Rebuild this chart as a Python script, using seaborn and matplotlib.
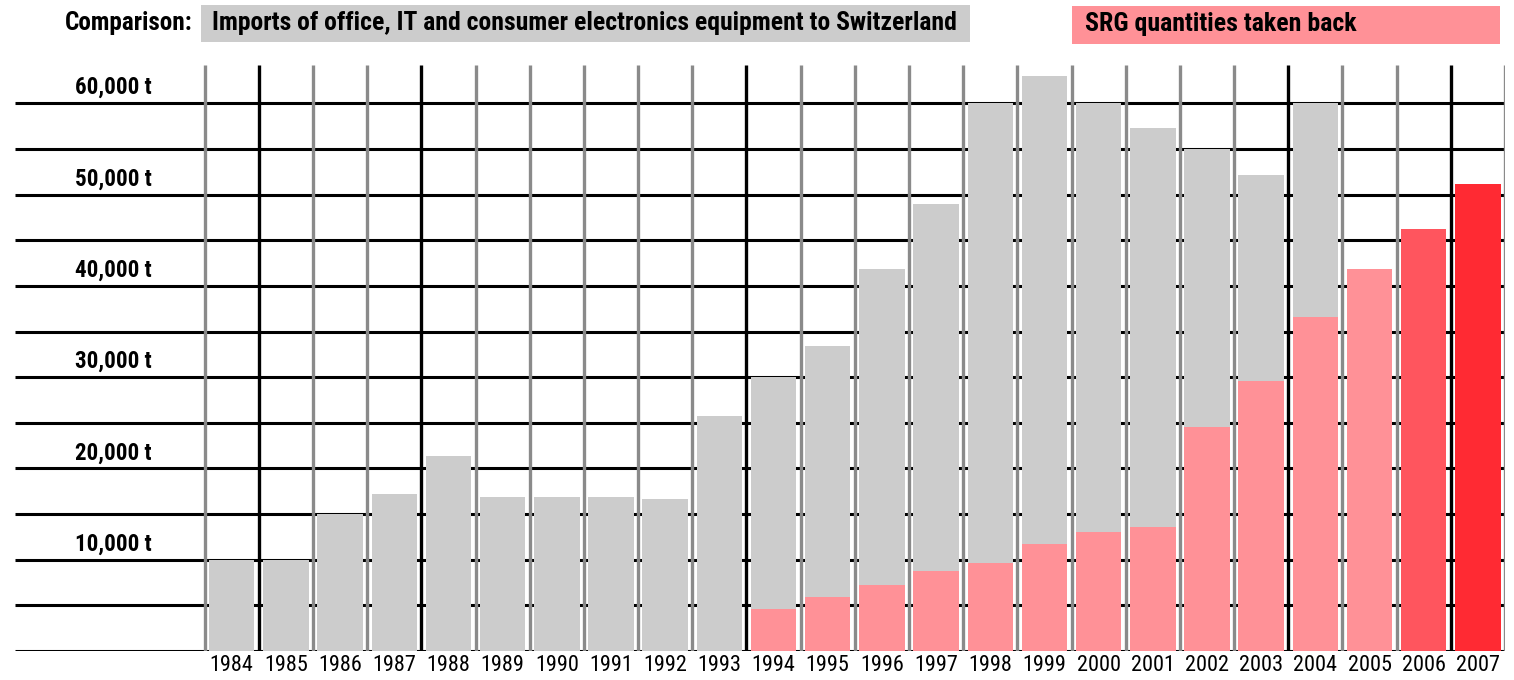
import numpy as np
import pandas as pd
import matplotlib
matplotlib.use("Agg")
import matplotlib.pyplot as plt
import matplotlib.font_manager as fm
import seaborn as sns

years = [str(y) for y in range(1984, 2008)]
imports_t = [10000, 10000, 15000, 17200, 21400, 16900, 16900, 16900, 16700, 25800,
             30000, 33400, 41800, 49000, 60000, 63000, 60000, 57300, 55000, 52200,
             60000, np.nan, np.nan, np.nan]
srg_t = [np.nan] * 10 + [4600, 5900, 7200, 8800, 9600, 11700, 13000, 13600, 24500,
                         29600, 36600, 41800, 46200, 51200]
y_tick_values = [10000, 20000, 30000, 40000, 50000, 60000]
y_tick_labels = ["10,000 t", "20,000 t", "30,000 t", "40,000 t", "50,000 t", "60,000 t"]
header_prefix = "Comparison:"
legend_imports = "Imports of office, IT and consumer electronics equipment to Switzerland"
legend_srg = "SRG quantities taken back"

GRAY = "#cccccc"
PINK = "#ff9197"
srg_colors = [PINK] * 12 + ["#ff555e", "#ff2a33"]

sns.set_theme(style="white")

# choose a narrow font if one is available
fonts = fm.fontManager.ttflist
names = {f.name for f in fonts}
stretch = "normal"
family = "Roboto" if "Roboto" in names else "DejaVu Sans"
for cand in ["Liberation Sans Narrow", "Roboto Condensed", "Open Sans Condensed",
             "Arial Narrow", "Nimbus Sans Narrow"]:
    if cand in names:
        family = cand
        break
else:
    for f in fonts:
        if f.name in ("Roboto", "Open Sans", "DejaVu Sans", "Noto Sans") and \
                str(f.stretch) in ("condensed", "semi-condensed", "extra-condensed", "75", "87.5"):
            family = f.name
            stretch = "condensed"
            break
plt.rcParams["font.family"] = [family, "DejaVu Sans"]
plt.rcParams["font.stretch"] = stretch
plt.rcParams["text.color"] = "black"
plt.rcParams["xtick.color"] = "black"

fig = plt.figure(figsize=(15.14, 6.8), dpi=100)
ax = fig.add_axes([15 / 1514, 29 / 680, 1490 / 1514, 586 / 680])

df_imp = pd.DataFrame({"year": years, "t": imports_t}).dropna()
df_srg = pd.DataFrame({"year": years, "t": srg_t}).dropna()

ax.hlines(np.arange(0, 60001, 5000), -4.0, 23.5, colors="black", linewidth=2.2, zorder=0)

sns.barplot(data=df_imp, x="year", y="t", order=years, color=GRAY, width=0.84,
            saturation=1, ax=ax, zorder=2, errorbar=None, linewidth=0)
sns.barplot(data=df_srg, x="year", y="t", order=years, hue="year",
            hue_order=list(df_srg["year"]), palette=srg_colors, width=0.84,
            saturation=1, ax=ax, zorder=3, errorbar=None, legend=False, dodge=False,
            linewidth=0)

vcolors = ["#8a8a8a"] * 25
for i in [1, 4, 10, 20, 23]:
    vcolors[i] = "#000000"
for i, c in enumerate(vcolors):
    ax.vlines(i - 0.5, 0, 64200, colors=c, linewidth=2.4, zorder=4)

ax.set_xlim(-4.0, 23.5)
ax.set_ylim(0, 64200)
for s in ax.spines.values():
    s.set_visible(False)
ax.set_yticks([])
ax.set_xlabel("")
ax.set_ylabel("")
ax.set_xticks(range(len(years)))
ax.set_xticklabels(years, fontsize=16, color="black")
ax.tick_params(axis="x", length=0, pad=3, labelcolor="black")

ylabs = []
for v, lab in zip(y_tick_values, y_tick_labels):
    ylabs.append(ax.annotate(lab, xy=(-1.48, v), xytext=(0, 3), textcoords="offset points",
                             ha="right", va="bottom", fontsize=16, fontweight="bold",
                             color="black"))

t_pre = fig.text(193 / 1514, 1 - 23 / 680, header_prefix, ha="right", va="center",
                 fontsize=15, fontweight="bold", color="black")
fig.patches.append(plt.Rectangle((201 / 1514, 1 - 42 / 680), 769 / 1514, 37 / 680,
                                 transform=fig.transFigure, facecolor=GRAY, edgecolor="none"))
t_imp = fig.text(212 / 1514, 1 - 23 / 680, legend_imports, ha="left", va="center",
                 fontsize=15, fontweight="bold", color="black")
fig.patches.append(plt.Rectangle((1072 / 1514, 1 - 44 / 680), 428 / 1514, 38 / 680,
                                 transform=fig.transFigure, facecolor=PINK, edgecolor="none"))
t_srg = fig.text(1085 / 1514, 1 - 24 / 680, legend_srg, ha="left", va="center",
                 fontsize=15, fontweight="bold", color="black")

# fit font sizes to the widths measured on the reference
renderer = fig.canvas.get_renderer()


def fit(texts, target_px, max_size):
    w = texts[0].get_window_extent(renderer).width
    size = texts[0].get_fontsize() * target_px / w
    size = min(size, max_size)
    for t in texts:
        t.set_fontsize(size)


fit([t_imp], 743, 21)
fit([t_pre], 128, 21)
fit([t_srg], 272, 21)
fit(ylabs, 76, 20)
xt = ax.get_xticklabels()
fit(xt, 44, 19)

fig.savefig("out.png", dpi=100, facecolor="white")
